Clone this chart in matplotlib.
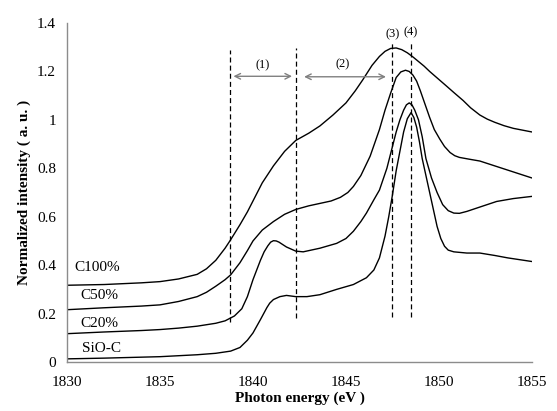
import matplotlib
matplotlib.use("Agg")
import matplotlib.pyplot as plt

plt.rcParams['font.family'] = ['Liberation Serif', 'DejaVu Serif']

# ---- data ----
c100_x = [1830, 1832, 1834, 1835, 1836, 1837, 1837.5, 1838, 1838.5, 1838.8, 1839.3, 1839.7,
          1840, 1840.5, 1841.1, 1841.7, 1842.3, 1843, 1843.6, 1844.3, 1845, 1845.5, 1845.9,
          1846.4, 1846.8, 1847.1, 1847.4, 1847.7, 1848.0, 1848.3, 1848.6, 1849.2, 1849.5,
          1849.8, 1850.1, 1850.4, 1850.8, 1851.3, 1851.7, 1852.2, 1852.6, 1853, 1853.5,
          1854, 1855]
c100_y = [0.317, 0.32, 0.327, 0.332, 0.343, 0.362, 0.385, 0.42, 0.47, 0.505, 0.567, 0.62,
          0.665, 0.74, 0.81, 0.87, 0.915, 0.945, 0.975, 1.02, 1.07, 1.12, 1.165,
          1.225, 1.262, 1.283, 1.295, 1.297, 1.29, 1.277, 1.26, 1.222, 1.2,
          1.18, 1.16, 1.14, 1.113, 1.08, 1.05, 1.02, 1.003, 0.99, 0.976,
          0.965, 0.95]

c50_x = [1830, 1832, 1834, 1835, 1836, 1837, 1837.5, 1838, 1838.5, 1838.8, 1839.3, 1839.7,
         1840, 1840.5, 1841.1, 1841.7, 1842.3, 1843, 1843.6, 1844.2, 1844.7, 1845.1, 1845.4,
         1845.8, 1846.3, 1846.8, 1847.1, 1847.4, 1847.7, 1847.95, 1848.2, 1848.4, 1848.6,
         1848.8, 1849.0, 1849.25, 1849.5, 1849.75, 1850.05, 1850.3, 1850.6, 1850.85, 1851.1,
         1851.6, 1852.2, 1853, 1854, 1855]
c50_y = [0.216, 0.224, 0.231, 0.236, 0.25, 0.27, 0.288, 0.313, 0.34, 0.36, 0.41, 0.46,
         0.50, 0.545, 0.58, 0.61, 0.63, 0.645, 0.655, 0.665, 0.68, 0.70, 0.725,
         0.77, 0.85, 0.96, 1.04, 1.11, 1.175, 1.198, 1.205, 1.2, 1.185,
         1.16, 1.12, 1.065, 1.01, 0.96, 0.92, 0.89, 0.865, 0.852, 0.845,
         0.838, 0.83, 0.81, 0.785, 0.76]

c20_x = [1830, 1832, 1834, 1835, 1836, 1837, 1838, 1838.5, 1839, 1839.4, 1839.7, 1840.0,
         1840.4, 1840.6, 1840.8, 1840.95, 1841.1, 1841.25, 1841.4, 1841.8, 1842.3, 1842.7,
         1843.6, 1844.5, 1845.0, 1845.4, 1845.8, 1846.1, 1846.5, 1846.8, 1847.2, 1847.5,
         1847.7, 1847.9, 1848.1, 1848.25, 1848.4, 1848.55, 1848.7, 1848.9, 1849.1, 1849.3,
         1849.6, 1849.9, 1850.2, 1850.5, 1850.8, 1851.1, 1851.5, 1852.2, 1853.1, 1854, 1855]
c20_y = [0.117, 0.124, 0.13, 0.134, 0.14, 0.148, 0.16, 0.17, 0.19, 0.22, 0.27, 0.34,
         0.42, 0.455, 0.48, 0.495, 0.501, 0.5, 0.495, 0.475, 0.458, 0.455,
         0.47, 0.49, 0.51, 0.54, 0.58, 0.615, 0.67, 0.71, 0.80, 0.89,
         0.95, 1.0, 1.04, 1.062, 1.07, 1.062, 1.04, 1.0, 0.93, 0.84,
         0.76, 0.70, 0.65, 0.625, 0.615, 0.614, 0.622, 0.64, 0.663, 0.675, 0.684]

sio_x = [1830, 1832, 1834, 1835, 1836, 1837, 1838, 1838.8, 1839.3, 1839.7, 1840.0, 1840.4,
         1840.75, 1840.9, 1841.1, 1841.45, 1841.8, 1842.3, 1842.9, 1843.6, 1844.5, 1845.4,
         1846.1, 1846.5, 1846.8, 1847.1, 1847.3, 1847.5, 1847.7, 1847.9, 1848.1, 1848.3,
         1848.5, 1848.65, 1848.8, 1848.95, 1849.1, 1849.3, 1849.5, 1849.7, 1849.9, 1850.1,
         1850.3, 1850.5, 1850.8, 1851.5, 1852.2, 1853, 1853.7, 1855]
sio_y = [0.013, 0.016, 0.02, 0.022, 0.026, 0.03, 0.036, 0.045, 0.06, 0.09, 0.12, 0.175,
         0.225, 0.243, 0.258, 0.27, 0.275, 0.27, 0.27, 0.278, 0.30, 0.32,
         0.348, 0.38, 0.43, 0.52, 0.60, 0.69, 0.79, 0.87, 0.95, 1.005,
         1.03, 1.01, 0.97, 0.91, 0.84, 0.77, 0.70, 0.63, 0.56, 0.51,
         0.478, 0.462, 0.455, 0.45, 0.45, 0.44, 0.43, 0.415]

series_names = ["C100%", "C50%", "C20%", "SiO-C"]
label_pos_x = [1830.4, 1830.7, 1830.7, 1830.8]
label_pos_y = [0.39, 0.275, 0.16, 0.055]

x_ticks = [1830, 1835, 1840, 1845, 1850, 1855]
y_ticks = [0, 0.2, 0.4, 0.6, 0.8, 1.0, 1.2, 1.4]
y_tick_labels = ["0", "0.2", "0.4", "0.6", "0.8", "1", "1.2", "1.4"]

# marker lines (1)-(4)
vline_x = [1838.75, 1842.3, 1847.5, 1848.48]
vline_bottom = [0.167, 0.183, 0.187, 0.187]
vline_top = [1.289, 1.297, 1.32, 1.32]
region_names = ["(1)", "(2)"]
region_start = [1838.8, 1842.6]
region_end = [1842.25, 1847.3]
region_y = [1.18, 1.178]
region_label_x = [1840.5, 1844.8]
region_label_y = [1.225, 1.228]
peak_names = ["(3)", "(4)"]
peak_label_x = [1847.5, 1848.5]
peak_label_y = [1.355, 1.36]

# ---- figure ----
fig = plt.figure(figsize=(5.57, 4.11), dpi=100)
ax = fig.add_axes([0.1203, 0.1192, 0.8347, 0.8248])

for xs, ys in [(c100_x, c100_y), (c50_x, c50_y), (c20_x, c20_y), (sio_x, sio_y)]:
    ax.plot(xs, ys, color='black', lw=1.0, solid_joinstyle='round', solid_capstyle='round')

for name, lx, ly in zip(series_names, label_pos_x, label_pos_y):
    ax.text(lx, ly, name, fontsize=11, ha='left', va='center')

for vx, vb, vt in zip(vline_x, vline_bottom, vline_top):
    ax.plot([vx, vx], [vb, vt], color='black', lw=0.9, ls=(0, (4, 2.5)))

for name, xs, xe, yy, lx, ly in zip(region_names, region_start, region_end, region_y,
                                     region_label_x, region_label_y):
    ax.annotate('', xy=(xe, yy), xytext=(xs, yy),
                arrowprops=dict(arrowstyle='<->', color='#808080', lw=1.0,
                                mutation_scale=10))
    ax.text(lx, ly, name, fontsize=9, ha='center', va='center')

for name, lx, ly in zip(peak_names, peak_label_x, peak_label_y):
    ax.text(lx, ly, name, fontsize=9, ha='center', va='center')

ax.set_xlim(1830, 1855)
ax.set_ylim(0, 1.4)
ax.set_xticks(x_ticks)
ax.set_yticks(y_ticks)
ax.set_yticklabels(y_tick_labels)
ax.tick_params(length=0, labelsize=11, pad=8)
ax.tick_params(axis='x', pad=10)

for s in ['top', 'right']:
    ax.spines[s].set_visible(False)
for s in ['left', 'bottom']:
    ax.spines[s].set_color('#8c8c8c')
    ax.spines[s].set_linewidth(1.0)

ax.set_xlabel('Photon energy (eV )', fontsize=11, fontweight='bold', labelpad=2)
ax.set_ylabel('Normalized intensity ( a. u. )', fontsize=11, fontweight='bold', labelpad=4)

fig.savefig('out.png', dpi=100)
